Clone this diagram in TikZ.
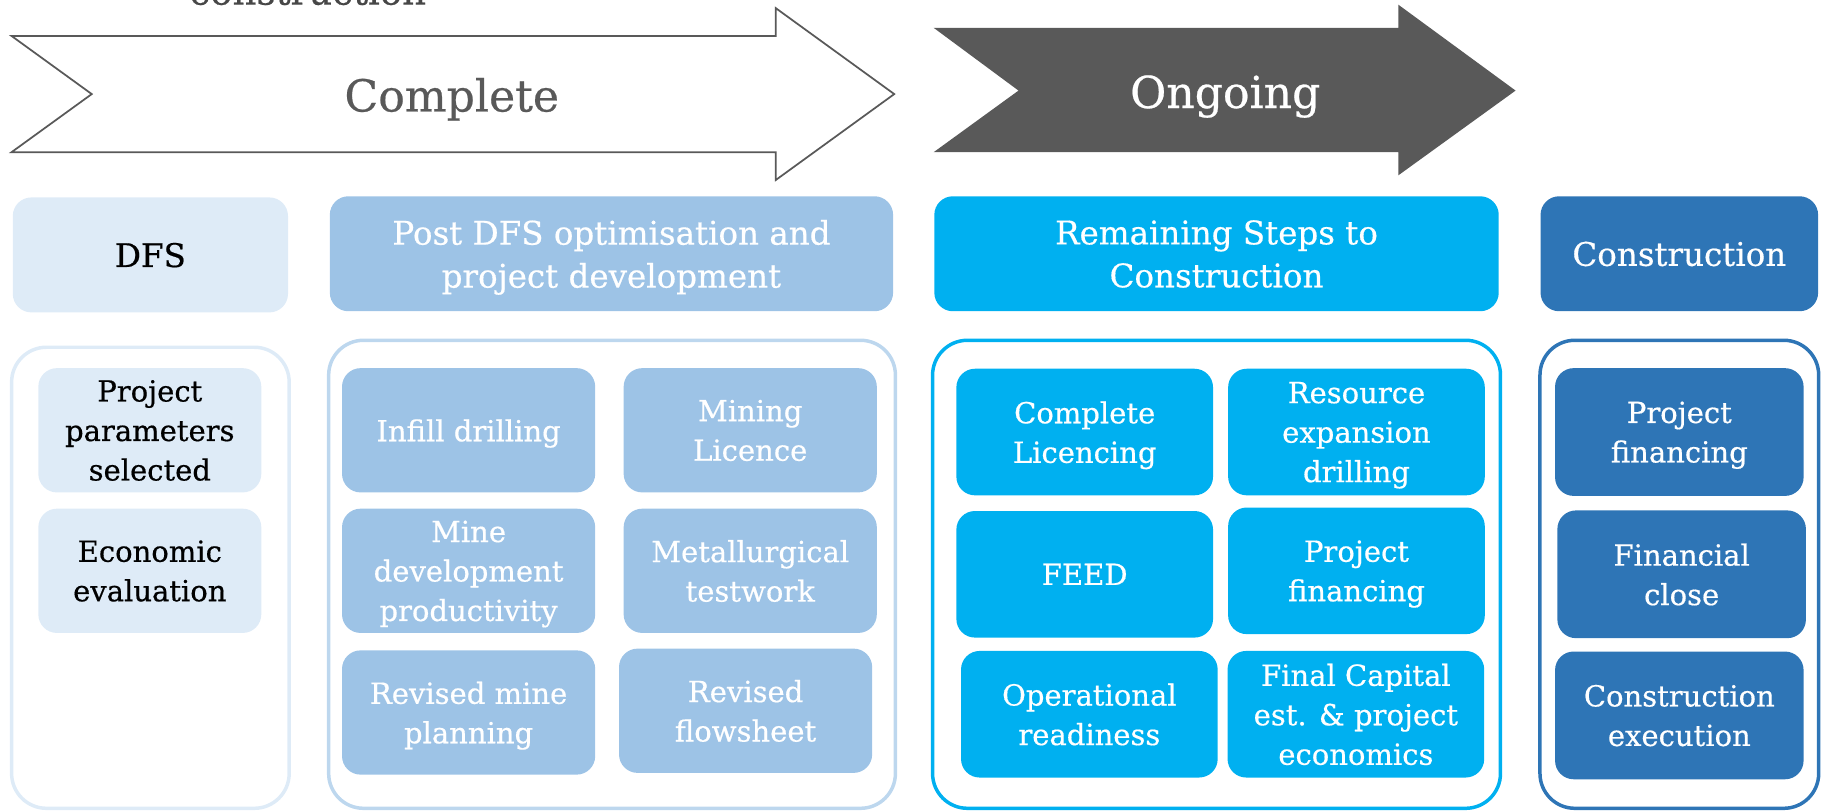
\documentclass[tikz,border=0pt]{standalone}
\usepackage{fontspec}
\setmainfont{DejaVu Serif}[FakeBold=0.5]
\definecolor{dfsfill}{HTML}{DEEBF7}
\definecolor{postfill}{HTML}{9DC3E6}
\definecolor{postline}{HTML}{BDD7EE}
\definecolor{remfill}{HTML}{00B0F0}
\definecolor{confill}{HTML}{2E75B6}
\definecolor{arrowgrey}{HTML}{595959}

\begin{document}
\begin{tikzpicture}[x=1pt,y=-1pt,
  phase/.style={rounded corners=16pt, inner sep=0pt, align=center, minimum height=99pt,
    text depth=0pt, font=\fontsize{28}{37}\selectfont},
  task/.style={rounded corners=16pt, inner sep=0pt, align=center,
    text depth=0pt, font=\fontsize{25}{34}\selectfont},
  frame/.style={line width=3pt, rounded corners=30pt}]
\useasboundingbox (0,0) rectangle (1568,699);

% status arrows
\node[arrowgrey!80!black, anchor=base, font=\fontsize{32}{38}\selectfont] (toplabel) at (265,4) {construction};
\draw[arrowgrey, line width=1.5pt] (10,31) -- (668,31) -- (668,7) -- (770,81) -- (668,155) -- (668,131) -- (10,131) -- (79,81) -- cycle;
\node[arrowgrey, anchor=base, font=\fontsize{38}{44}\selectfont] (complete) at (389,96) {Complete};
\fill[arrowgrey] (804,24) -- (1204,24) -- (1204,4) -- (1305,78) -- (1204,151) -- (1204,131) -- (804,131) -- (877,78) -- cycle;
\node[white, anchor=base, font=\fontsize{38}{44}\selectfont] (ongoing) at (1055,93) {Ongoing};

% phase headers
\node[phase, fill=dfsfill, minimum width=237pt] (dfs) at (129.5,219.5) {DFS};
\node[phase, fill=postfill, text=white, minimum width=485pt] (post) at (526.5,218.5) {Post DFS optimisation and\\project development};
\node[phase, fill=remfill, text=white, minimum width=486pt] (remain) at (1047.5,218.5) {Remaining Steps to\\Construction};
\node[phase, fill=confill, text=white, minimum width=239pt] (constr) at (1446,218.5) {Construction};

% frames under each header
\draw[frame, dfsfill] (10,299) rectangle (249,696);
\draw[frame, postline] (283,293) rectangle (771,696);
\draw[frame, remfill] (803,293) rectangle (1292,696);
\draw[frame, confill] (1326,293) rectangle (1566,696);

% DFS
\foreach \cx/\cy/\nm/\txt in {129/370.5/params/{Project\\parameters\\selected}, 129/491.5/econ/{Economic\\evaluation}}
  \node[task, fill=dfsfill, minimum width=192pt, minimum height=107pt] (\nm) at (\cx,\cy) {\txt};

% post DFS
\foreach \cx/\cy/\nm/\txt in {403.5/370.5/infill/{Infill drilling}, 646/370.5/licence/{Mining\\Licence},
  403.5/491.5/minedev/{Mine\\development\\productivity}, 646/491.5/metal/{Metallurgical\\testwork},
  403.5/613.5/mineplan/{Revised mine\\planning}, 642/612/flowsheet/{Revised\\flowsheet}}
  \node[task, fill=postfill, text=white, minimum width=218pt, minimum height=107pt] (\nm) at (\cx,\cy) {\txt};

% remaining steps
\foreach \cx/\cy/\nm/\txt in {934/372/licencing/{Complete\\Licencing}, 1168/372/resource/{Resource\\expansion\\drilling},
  934/494.5/feed/{FEED}, 1168/491.5/finance/{Project\\financing},
  938/615/readiness/{Operational\\readiness}, 1167.5/615/capital/{Final Capital\\est. \& project\\economics}}
  \node[task, fill=remfill, text=white, minimum width=221pt, minimum height=109pt] (\nm) at (\cx,\cy) {\txt};

% construction
\foreach \cx/\cy/\nm/\txt in {1446/372/confinance/{Project\\financing}, 1448/494.5/close/{Financial\\close},
  1446/616/execution/{Construction\\execution}}
  \node[task, fill=confill, text=white, minimum width=214pt, minimum height=110pt] (\nm) at (\cx,\cy) {\txt};
\end{tikzpicture}
\end{document}
